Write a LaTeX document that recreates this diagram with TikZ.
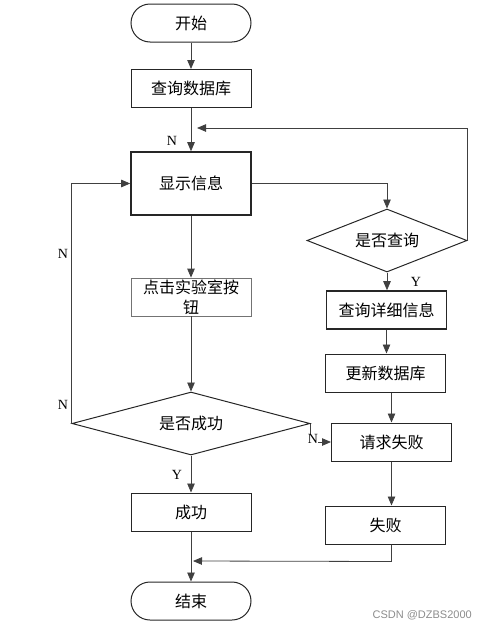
\documentclass[tikz,border=0pt]{standalone}
\usepackage{fontspec}
\setmainfont{Liberation Serif}
\newfontfamily\cjk{Noto Sans CJK SC}
\newfontfamily\wmfont{Liberation Sans}
\usetikzlibrary{arrows.meta,shapes.geometric,positioning}

\begin{document}
\begin{tikzpicture}[x=1pt, y=-1pt,
    box/.style={draw=black!85, line width=1pt, minimum width=120pt, minimum height=38pt,
      inner sep=0pt, align=center, font=\cjk\fontsize{16}{20}\selectfont},
    thickbox/.style={box, line width=1.6pt},
    thinbox/.style={box, draw=black!55, line width=0.8pt},
    term/.style={box, rounded corners=19pt},
    cond/.style={box, diamond, shape aspect=3, minimum width=160pt, minimum height=63pt},
    arr/.style={draw=black!75, line width=0.8pt, -{Triangle[length=9pt,width=7.5pt]}},
    lab/.style={font=\fontsize{14}{14}\selectfont, inner sep=0pt}]
    \useasboundingbox (0,0) rectangle (487,632);

    % Left column
    \node[term] (start) at (191,23) {开始};
    \node[box] (querydb) at (191,88.5) {查询数据库};
    \node[thickbox, minimum height=63pt] (show) at (191,183.5) {显示信息};
    \node[thinbox] (click) at (191,297) {点击实验室按\\钮};
    \node[cond, shape aspect=3.8, minimum width=238pt] (okq) at (191,423.5) {是否成功};
    \node[box] (ok) at (191,512) {成功};
    \node[term] (end) at (191,601) {结束};

    % Right column
    \node[cond, shape aspect=2.5] (askq) at (387,240.5) {是否查询};
    \node[thickbox] (detail) at (386.5,310) {查询详细信息};
    \node[box] (update) at (385.5,373) {更新数据库};
    \node[box] (reqfail) at (391.5,442) {请求失败};
    \node[box] (fail) at (385.5,525) {失败};

    % Free ends
    \coordinate (loopin) at (197,128);
    \coordinate (mergein) at (193,561);

    % Connectors
    \draw[arr] (start) -- (querydb);
    \draw[arr] (querydb) -- (show);
    \draw[arr] (show.east) -| (askq.north);
    \draw[arr] (askq.east) |- (loopin);
    \draw[arr] (askq.south) -- (askq.south |- detail.north);
    \draw[arr] (detail.south) -- (detail.south |- update.north);
    \draw[arr] (reqfail.north |- update.south) -- (reqfail.north);
    \draw[arr] (reqfail.south) -- (reqfail.south |- fail.north);
    \draw[arr] (reqfail.south |- fail.south) -- ++(0,17) -- (mergein);
    \draw[arr] (show) -- (click);
    \draw[arr] (click) -- (okq.north);
    \draw[arr] (okq.south) -- (ok);
    \draw[arr] (ok) -- (end);
    \draw[arr] (okq.west) |- (show.west);
    \draw[arr] (okq.east) |- (reqfail.west);

    % Labels
    \node[lab] (nshow) at (172,141) {N};
    \node[lab] (yask) at (416,282) {Y};
    \node[lab] (nloopa) at (63,254) {N};
    \node[lab] (nloopb) at (63,405) {N};
    \node[lab, fill=white] (nfail) at (313,439) {N};
    \node[lab] (yok) at (177,475) {Y};

    % Watermark
    \node[font=\wmfont\fontsize{11}{11}\selectfont, text=black!45, anchor=east, inner sep=0pt] (mark) at (472,615) {CSDN @DZBS2000};
\end{tikzpicture}
\end{document}
